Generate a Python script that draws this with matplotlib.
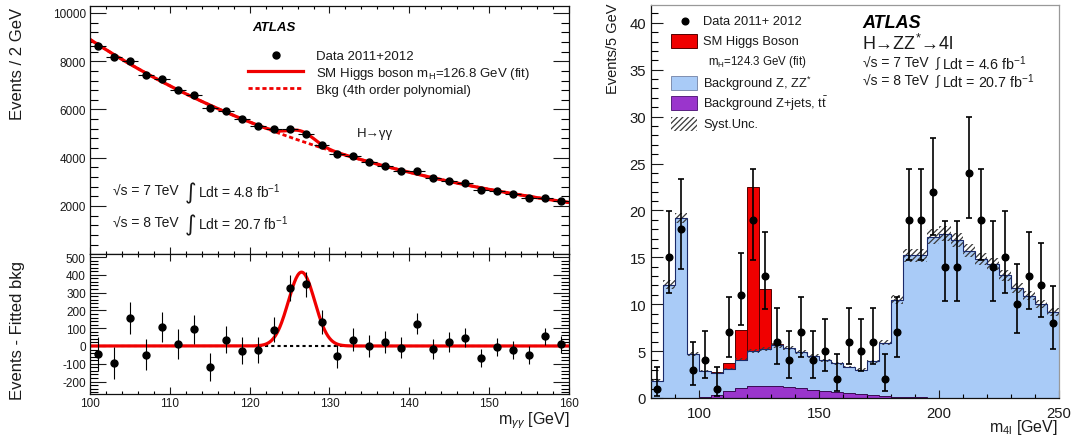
import numpy as np
import matplotlib
matplotlib.use("Agg")
from matplotlib import pyplot as plt
from matplotlib.lines import Line2D
from matplotlib.patches import Rectangle
from matplotlib.ticker import MultipleLocator

plt.rcParams['font.family'] = ['Liberation Sans', 'DejaVu Sans']
plt.rcParams['mathtext.fontset'] = 'custom'
plt.rcParams['mathtext.rm'] = 'Liberation Sans'
plt.rcParams['mathtext.it'] = 'Liberation Sans:italic'
plt.rcParams['mathtext.bf'] = 'Liberation Sans:bold'
plt.rcParams['axes.unicode_minus'] = False
plt.rcParams['hatch.linewidth'] = 0.9
plt.rcParams['hatch.color'] = '#3a3a3a'

# ---- H -> gamma gamma (left) ----
mgg = np.arange(101, 160, 2)
gg_data = np.array([8650, 8190, 8030, 7445, 7265, 6820, 6590, 6075, 5940, 5595,
                    5315, 5190, 5190, 4985, 4530, 4155, 4060, 3810, 3670, 3465,
                    3435, 3145, 3050, 2940, 2675, 2610, 2510, 2340, 2340, 2205])
gg_resid = np.array([-45, -97, 157, -49, 108, 11, 95, -118, 36, -26,
                     -21, 92, 325, 348, 133, -58, 35, -2, 21, -9,
                     124, -17, 24, 47, -67, -7, -24, -51, 55, 10])
sig_mass = 126.5
sig_width = 1.65
sig_peak = 415

# ---- H -> ZZ* -> 4l (right) ----
m4l_edges = np.arange(80, 251, 5)
zz_data = np.array([1, 15, 18, 3, 4, 1, 7, 11, 19, 13, 6, 4, 7, 4, 5, 2, 6,
                    5, 6, 2, 7, 19, 19, 22, 14, 14, 24, 19, 14, 15, 10, 13, 12, 8])
bkg_zjets = np.array([0, 0, 0, 0.02, 0.1, 0.3, 0.75, 1.05, 1.25, 1.3, 1.3, 1.2,
                      1.05, 0.9, 0.7, 0.6, 0.5, 0.4, 0.3, 0.22, 0.15, 0.1, 0.06,
                      0.03, 0.01, 0, 0, 0, 0, 0, 0, 0, 0, 0])
bkg_total = np.array([1.85, 12.1, 19.2, 4.7, 2.85, 2.65, 3.1, 4.1, 5.05, 5.2,
                      5.6, 5.3, 4.9, 4.5, 4.0, 3.7, 3.3, 3.0, 3.9, 5.9, 10.5,
                      15.2, 15.2, 17.2, 17.5, 16.8, 15.7, 14.8, 14.3, 13.1,
                      11.7, 10.9, 10.0, 9.15])
higgs = np.array([0, 0, 0, 0, 0, 0.12, 0.6, 3.1, 17.45, 6.4, 0.12, 0, 0, 0, 0,
                  0, 0, 0, 0, 0, 0, 0, 0, 0, 0, 0, 0, 0, 0, 0, 0, 0, 0, 0])
syst = np.array([0.15, 0.45, 0.55, 0.2, 0.12, 0.12, 0.15, 0.2, 0.22, 0.22,
                 0.25, 0.22, 0.2, 0.2, 0.18, 0.15, 0.15, 0.15, 0.18, 0.25,
                 0.45, 0.7, 0.7, 0.8, 0.8, 0.75, 0.7, 0.65, 0.65, 0.6, 0.55,
                 0.5, 0.45, 0.42])

RED = '#f00000'
BLUE = '#a9cbf7'
NAVY = '#1a2a6a'
PURPLE = '#9a35cc'
TXT = '#1a1a1a'

W, H = 1075, 439
fig = plt.figure(figsize=(W / 100, H / 100), dpi=100)


def box(x0, y0, x1, y1):
    return [x0 / W, 1 - y1 / H, (x1 - x0) / W, (y1 - y0) / H]


def ftext(x, y, s, **kw):
    kw.setdefault('color', TXT)
    return fig.text(x / W, 1 - y / H, s, **kw)


def frect(x0, y0, x1, y1, **kw):
    fig.add_artist(Rectangle((x0 / W, 1 - y1 / H), (x1 - x0) / W, (y1 - y0) / H,
                             transform=fig.transFigure, **kw))


def root_ticks(ax, xlen, ylen, size, pad_x, pad_y, mirror=True):
    ax.tick_params(axis='x', which='major', direction='in', length=xlen[0],
                   width=0.8, labelsize=size, pad=pad_x, top=mirror, colors=TXT)
    ax.tick_params(axis='x', which='minor', direction='in', length=xlen[1],
                   width=0.8, top=mirror)
    ax.tick_params(axis='y', which='major', direction='in', length=ylen[0],
                   width=0.8, labelsize=size, pad=pad_y, right=mirror, colors=TXT)
    ax.tick_params(axis='y', which='minor', direction='in', length=ylen[1],
                   width=0.8, right=mirror)
    for s in ax.spines.values():
        s.set_linewidth(0.9)
        s.set_color('#111111')


ax_top = fig.add_axes(box(90, 7, 569, 255))
ax_res = fig.add_axes(box(90, 255, 569, 395), sharex=ax_top)
ax_zz = fig.add_axes(box(651, 6, 1059, 399))

# ---------- left: top panel ----------
xf = np.linspace(100, 160, 601)
coef = np.polyfit(mgg - 130, gg_data - gg_resid, 4)
bkg_curve = np.polyval(coef, xf - 130)
sig_curve = sig_peak * np.exp(-0.5 * ((xf - sig_mass) / sig_width) ** 2)

ax_top.plot(xf, bkg_curve, color=RED, lw=2, ls=(0, (1.5, 1.0)))
ax_top.plot(xf, bkg_curve + sig_curve, color=RED, lw=2.3)
ax_top.errorbar(mgg, gg_data, xerr=1, yerr=np.sqrt(gg_data), fmt='o', color='k',
                ms=5, elinewidth=0.8, capsize=0, zorder=5)
ax_top.set_xlim(100, 160)
ax_top.set_ylim(10, 10290)
ax_top.xaxis.set_major_locator(MultipleLocator(10))
ax_top.xaxis.set_minor_locator(MultipleLocator(2))
ax_top.yaxis.set_major_locator(MultipleLocator(2000))
ax_top.yaxis.set_minor_locator(MultipleLocator(400))
root_ticks(ax_top, (5, 2.5), (11.5, 6), 8.5, 2, 3)
ax_top.tick_params(axis='x', labelbottom=False)

leg1 = ax_top.legend(
    [Line2D([], [], ls='none', marker='o', ms=5, color='k'),
     Line2D([], [], color=RED, lw=2.3),
     Line2D([], [], color=RED, lw=2, ls=(0, (1.5, 1.0)))],
    ['Data 2011+2012', r'SM Higgs boson m$_{\mathrm{H}}$=126.8 GeV (fit)',
     'Bkg (4th order polynomial)'],
    loc='upper left', bbox_to_anchor=(248 / W, 1 - 51 / H),
    bbox_transform=fig.transFigure, frameon=False, borderpad=0,
    borderaxespad=0, handlelength=4.2, handletextpad=0.95, labelspacing=0.2,
    fontsize=9.5)
for t in leg1.get_texts():
    t.set_color(TXT)

ftext(252, 28, 'ATLAS', fontsize=9.5, fontweight='bold', fontstyle='italic',
      va='center', ha='left', color='k')
ftext(357, 134, 'H→γγ', fontsize=9.5, va='center', ha='left')
for y, lbl, lumi in [(192, '7', '4.8'), (224, '8', '20.7')]:
    ftext(113, y, f'√s = {lbl} TeV', fontsize=10, va='center')
    ftext(185, y + 1, '∫', fontsize=16, va='center', family=['DejaVu Sans'])
    ftext(198, y, 'Ldt = ' + lumi + r' fb$^{-1}$', fontsize=10, va='center')

# ---------- left: residual panel ----------
ax_res.axhline(0, color='k', lw=1.5, ls=(0, (1.5, 1.5)))
ax_res.plot(xf, sig_curve, color=RED, lw=2.3)
ax_res.errorbar(mgg, gg_resid, yerr=np.sqrt(gg_data), fmt='o', color='k',
                ms=5, elinewidth=0.8, capsize=0, zorder=5)
ax_res.set_ylim(-270, 517)
ax_res.yaxis.set_major_locator(MultipleLocator(100))
ax_res.yaxis.set_minor_locator(MultipleLocator(20))
root_ticks(ax_res, (5, 2.5), (11.5, 6), 8.5, 2, 3)

ftext(18, 8, 'Events / 2 GeV', rotation=90, fontsize=12, ha='center', va='top')
ftext(18, 331, 'Events - Fitted bkg', rotation=90, fontsize=12, ha='center',
      va='center')
ftext(569, 421, r'm$_{\gamma\gamma}$ [GeV]', fontsize=11.5, ha='right',
      va='center')

# ---------- right: 4l mass ----------
centers = 0.5 * (m4l_edges[1:] + m4l_edges[:-1])
ax_zz.stairs(bkg_zjets, m4l_edges, baseline=0, fill=True, color=PURPLE,
             zorder=1)
ax_zz.stairs(bkg_total, m4l_edges, baseline=bkg_zjets, fill=True, color=BLUE,
             zorder=1)
ax_zz.stairs(bkg_zjets, m4l_edges, baseline=None, color='#3a0d55', lw=0.7,
             zorder=2)
sel = higgs > 0
ax_zz.bar(centers[sel], higgs[sel], width=5, bottom=bkg_total[sel], color=RED,
          edgecolor='#550000', lw=0.7, zorder=2)
ax_zz.bar(centers, 2 * syst, width=5, bottom=bkg_total - syst, fill=False,
          hatch='//////', edgecolor='#3a3a3a', lw=0, zorder=3)
ax_zz.stairs(bkg_total, m4l_edges, baseline=None, color=NAVY, lw=0.8,
             zorder=3)

lo = zz_data * (1 - 1 / (9 * zz_data) - 1 / (3 * np.sqrt(zz_data))) ** 3
hi = zz_data + 1 + np.sqrt(zz_data + 0.75)
ax_zz.errorbar(centers, zz_data, yerr=[zz_data - lo, hi - zz_data], fmt='o',
               color='k', ms=4.8, elinewidth=1.2, capsize=2, capthick=1.2,
               zorder=6)

ax_zz.set_xlim(80, 250)
ax_zz.set_ylim(0, 41.9)
ax_zz.xaxis.set_major_locator(MultipleLocator(50))
ax_zz.xaxis.set_minor_locator(MultipleLocator(10))
ax_zz.yaxis.set_major_locator(MultipleLocator(5))
ax_zz.yaxis.set_minor_locator(MultipleLocator(1))
root_ticks(ax_zz, (5.5, 3), (8.5, 5), 10.7, 5.5, 3.5, mirror=False)
ax_zz.spines['top'].set_color('#999999')
ax_zz.spines['right'].set_color('#999999')

# legend of the right panel, drawn row by row
fig.add_artist(Line2D([685 / W], [1 - 22 / H], transform=fig.transFigure,
                      ls='none', marker='o', ms=4.8, color='k'))
frect(671, 35, 697, 49, facecolor=RED, edgecolor='#550000', lw=0.7)
frect(671, 77, 697, 91, facecolor=BLUE, edgecolor='#7f8fb0', lw=0.7)
frect(671, 97, 697, 111, facecolor=PURPLE, edgecolor='#5a2080', lw=0.7)
frect(671, 118, 697, 132, facecolor='none', edgecolor='#3a3a3a',
      hatch='//////', lw=0)
leg_rows = [(22, 703, 'Data 2011+ 2012', 9.3),
            (42, 703, 'SM Higgs Boson', 9.3),
            (62, 708, r'm$_{\mathrm{H}}$=124.3 GeV (fit)', 8.3),
            (84, 703, r'Background Z, ZZ$^{*}$', 9.3),
            (104, 703, r'Background Z+jets, t$\bar{\mathrm{t}}$', 9.3),
            (125, 703, 'Syst.Unc.', 9.3)]
for y, x, s, fs in leg_rows:
    ftext(x, y, s, fontsize=fs, va='center')

ftext(862, 24, 'ATLAS', fontsize=13, fontweight='bold', fontstyle='italic',
      va='center', color='k')
ftext(862, 44, r'H→ZZ$^{*}$→4l', fontsize=13, va='center')
for y, lbl, lumi in [(64, '7', '4.6'), (82, '8', '20.7')]:
    ftext(863, y, f'√s = {lbl} TeV', fontsize=10, va='center')
    ftext(936, y, '∫', fontsize=9.5, va='center')
    ftext(942, y, 'Ldt = ' + lumi + r' fb$^{-1}$', fontsize=10.3,
          va='center')

ftext(613, 4, 'Events/5 GeV', rotation=90, fontsize=10.5, ha='center',
      va='top')
ftext(1058, 428, r'm$_{\mathrm{4l}}$ [GeV]', fontsize=11.5, ha='right',
      va='center')

fig.savefig('out.png', dpi=100)
